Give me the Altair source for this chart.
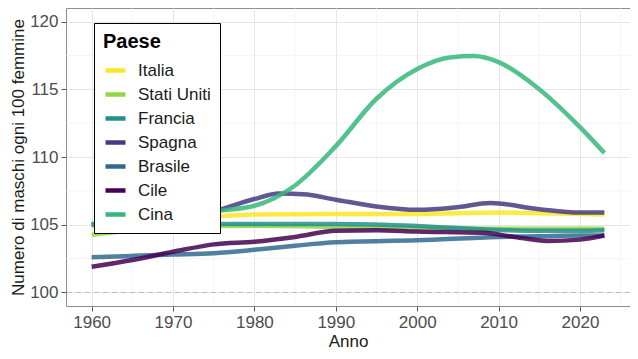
import altair as alt
import pandas as pd

countries = ["Italia", "Stati Uniti", "Francia", "Spagna", "Brasile", "Cile", "Cina"]
colors = ["#FDE725", "#8FD744", "#21908C", "#443A83", "#31688E", "#440154", "#35B779"]

years_italia = [1960, 1965, 1970, 1975, 1980, 1990, 2000, 2010, 2015, 2020, 2023]
vals_italia = [104.9, 105.2, 105.45, 105.6, 105.75, 105.8, 105.8, 105.9, 105.85, 105.8, 105.75]

years_usa = [1960, 1965, 1970, 1975, 1980, 1990, 2000, 2010, 2020, 2023]
vals_usa = [104.25, 104.6, 104.8, 104.9, 104.92, 104.85, 104.75, 104.7, 104.7, 104.7]

years_francia = [1960, 1970, 1980, 1990, 2000, 2005, 2010, 2015, 2020, 2023]
vals_francia = [105.05, 105.05, 105.05, 105.05, 104.9, 104.75, 104.62, 104.55, 104.55, 104.6]

years_spagna = [1960, 1965, 1970, 1975, 1980, 1983, 1986, 1990, 1995, 2000, 2005, 2009, 2015, 2020, 2023]
vals_spagna = [105.0, 105.2, 105.5, 106.0, 106.9, 107.3, 107.25, 106.85, 106.35, 106.1, 106.3, 106.6, 106.15, 105.9, 105.9]

years_brasile = [1960, 1965, 1970, 1975, 1980, 1985, 1990, 2000, 2010, 2015, 2020, 2023]
vals_brasile = [102.6, 102.7, 102.8, 102.9, 103.15, 103.45, 103.7, 103.85, 104.1, 104.15, 104.2, 104.2]

years_cile = [1960, 1965, 1970, 1975, 1980, 1985, 1990, 1995, 2000, 2008, 2012, 2016, 2020, 2023]
vals_cile = [101.9, 102.4, 103.0, 103.55, 103.75, 104.1, 104.55, 104.6, 104.5, 104.4, 104.1, 103.8, 103.9, 104.2]

years_cina = [1960, 1965, 1970, 1975, 1980, 1985, 1990, 1995, 2000, 2004, 2007, 2010, 2015, 2020, 2023]
vals_cina = [105.0, 105.3, 105.6, 106.0, 106.4, 107.9, 110.8, 114.3, 116.5, 117.35, 117.45, 117.0, 115.0, 112.2, 110.3]

series = {
    "Italia": (years_italia, vals_italia),
    "Stati Uniti": (years_usa, vals_usa),
    "Francia": (years_francia, vals_francia),
    "Spagna": (years_spagna, vals_spagna),
    "Brasile": (years_brasile, vals_brasile),
    "Cile": (years_cile, vals_cile),
    "Cina": (years_cina, vals_cina),
}

x_ticks = [1960, 1970, 1980, 1990, 2000, 2010, 2020]
x_minor = [1965, 1975, 1985, 1995, 2005, 2015, 2025]
y_ticks = [100, 105, 110, 115, 120]
y_minor = [102.5, 107.5, 112.5, 117.5]
ref_line = [100]

rows = []
for c in countries:
    ys, vs = series[c]
    for y, v in zip(ys, vs):
        rows.append({"Anno": y, "Valore": v, "Paese": c})
df = pd.DataFrame(rows)

xscale = alt.Scale(domain=[1956.85, 2026.15], nice=False, zero=False)
yscale = alt.Scale(domain=[99, 121], nice=False, zero=False)

FONT = "Liberation Sans"

minor_x = alt.Chart(pd.DataFrame({"x": x_minor})).mark_rule(
    color="#EFEFEF", strokeWidth=0.6
).encode(x=alt.X("x:Q", scale=xscale))

minor_y = alt.Chart(pd.DataFrame({"y": y_minor})).mark_rule(
    color="#EFEFEF", strokeWidth=0.6
).encode(y=alt.Y("y:Q", scale=yscale))

dashed = alt.Chart(pd.DataFrame({"y": ref_line})).mark_rule(
    color="#BDBDBD", strokeWidth=1, strokeDash=[5, 4]
).encode(y=alt.Y("y:Q", scale=yscale))

lines = alt.Chart(df).mark_line(
    strokeWidth=4.5, opacity=0.85, interpolate="monotone"
).encode(
    x=alt.X("Anno:Q", scale=xscale, title="Anno",
            axis=alt.Axis(values=x_ticks, format="d", grid=True)),
    y=alt.Y("Valore:Q", scale=yscale, title="Numero di maschi ogni 100 femmine",
            axis=alt.Axis(values=y_ticks, grid=True)),
    color=alt.Color(
        "Paese:N",
        scale=alt.Scale(domain=countries, range=colors),
        sort=countries,
        legend=alt.Legend(
            title="Paese", orient="none", legendX=28, legendY=15,
            fillColor="white", strokeColor="black", padding=9,
            symbolType="stroke", symbolSize=400, symbolStrokeWidth=4.5,
            symbolOpacity=1, labelOffset=10, rowPadding=2,
            titleFontSize=20, titleFont=FONT, titleFontWeight="bold",
            titleColor="black", titlePadding=6,
            labelFontSize=17, labelFont=FONT, labelColor="#1A1A1A",
        ),
    ),
    detail="Paese:N",
)

chart = alt.layer(minor_x, minor_y, dashed, lines).properties(
    width=564, height=298,
    autosize=alt.AutoSizeParams(type="none"),
    padding={"left": 58, "top": 0, "right": 0, "bottom": 45},
).configure_view(
    stroke="#8C8C8C", strokeWidth=1, fill="white"
).configure_axis(
    labelFont=FONT, titleFont=FONT, labelFontSize=17, titleFontSize=17,
    labelColor="#4D4D4D", titleColor="#1A1A1A", titleFontWeight="normal",
    gridColor="#E6E6E6", gridWidth=1, domain=False,
    tickColor="#555555", tickSize=5, labelPadding=3,
).configure_axisY(
    titlePadding=2
).configure_axisX(
    titlePadding=3
)

chart.save("out.html", embed_options={"renderer": "svg", "actions": False})
